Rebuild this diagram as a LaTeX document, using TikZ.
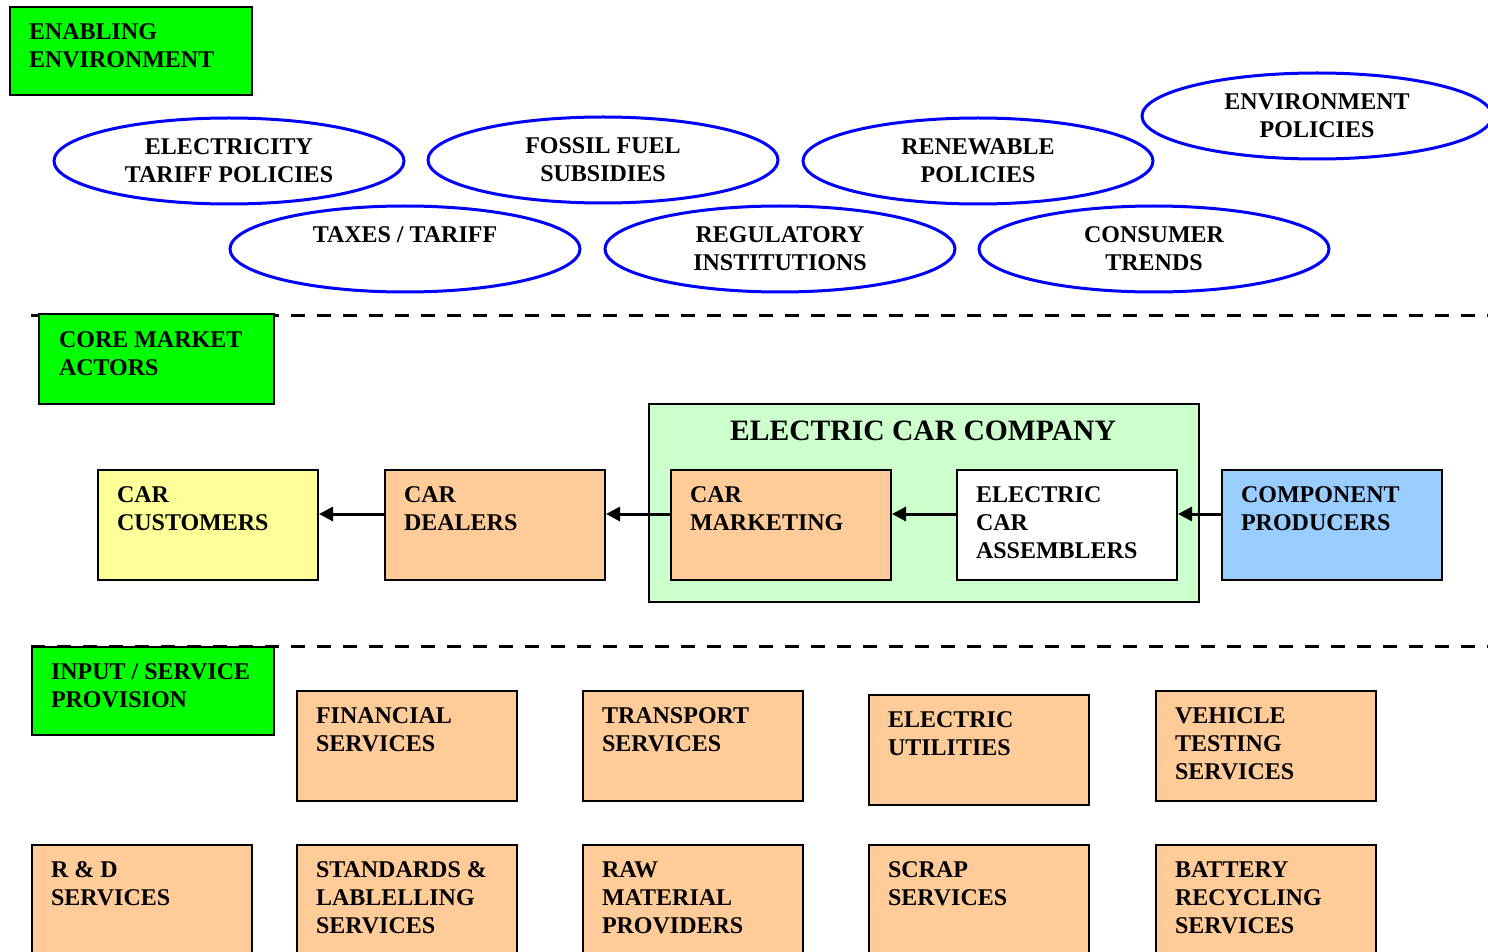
\documentclass[tikz,border=0pt]{standalone}
\usepackage{fontspec}
\setmainfont{Liberation Serif}
\usetikzlibrary{arrows.meta,positioning,shapes.geometric}

\definecolor{headgreen}{HTML}{00FF00}
\definecolor{peach}{HTML}{FFCC99}
\definecolor{custyellow}{HTML}{FFFF99}
\definecolor{compblue}{HTML}{99CCFF}
\definecolor{firmgreen}{HTML}{CCFFCC}
\definecolor{ellblue}{HTML}{0000FF}

\newcommand{\btext}[1]{\begin{minipage}[t][38pt][t]{91pt}\raggedright #1\end{minipage}}
\newcommand{\ttext}[2][102pt]{\begin{minipage}[t][27pt][t]{#1}\raggedright #2\end{minipage}}

\tikzset{
	txt/.style={font=\bfseries\fontsize{12}{14}\selectfont},
	cbox/.style={txt, draw, line width=1pt, rectangle, anchor=north west, inner xsep=9.5pt, inner ysep=8.5pt, minimum width=110pt, minimum height=55pt},
	headbox/.style={cbox, fill=headgreen, minimum width=121pt, minimum height=44pt},
	policy/.style={txt, ellipse, draw=ellblue, line width=1.5pt, inner sep=0pt, minimum width=175pt, minimum height=43pt, align=center},
	sepline/.style={line width=1.5pt, dash pattern=on 7pt off 6pt},
	arr/.style={line width=1.5pt, -{Triangle[length=7pt,width=7pt]}}
}

\begin{document}
\begin{tikzpicture}[x=0.5pt,y=-0.5pt]
		\clip (0,0) rectangle (1488,952);
		
		% separators
		\draw[sepline] (31,315) -- (1488,315);
		\draw[sepline] (31,646) -- (1488,646);
		
		% enabling environment
		\node[headbox]		(enabling)		at	(9,6)			{\ttext{ENABLING\\ENVIRONMENT}};
		\node[policy]		(tariffpol)		at	(229,161)		{ELECTRICITY\\TARIFF POLICIES};
		\node[policy]		(fossil)		at	(603,160)		{FOSSIL FUEL\\SUBSIDIES};
		\node[policy]		(renewable)		at	(978,161)		{RENEWABLE\\POLICIES};
		\node[policy]		(envpol)		at	(1317,116)		{ENVIRONMENT\\POLICIES};
		\node[policy]		(taxes)			at	(405,249)		{TAXES / TARIFF\\~};
		\node[policy]		(regulatory)	at	(780,249)		{REGULATORY\\INSTITUTIONS};
		\node[policy]		(trends)		at	(1154,249)		{CONSUMER\\TRENDS};
		
		% core market actors
		\node[headbox, inner xsep=10pt, minimum width=117.5pt, minimum height=45pt]	(core)	at	(38,313)	{\ttext[97.5pt]{CORE MARKET\\ACTORS}};
		\node[draw, line width=1pt, fill=firmgreen, anchor=north west, minimum width=275pt, minimum height=99pt]	(company)	at	(648,403)	{};
		\node[font=\bfseries\fontsize{14.8}{16}\selectfont]	(companytitle)	at	(923,431)	{ELECTRIC CAR COMPANY};
		\node[cbox, fill=custyellow]	(customers)		at	(97,469)	{\btext{CAR\\CUSTOMERS}};
		\node[cbox, fill=peach]			(dealers)		at	(384,469)	{\btext{CAR\\DEALERS}};
		\node[cbox, fill=peach]			(marketing)		at	(670,469)	{\btext{CAR\\MARKETING}};
		\node[cbox, fill=white]			(assemblers)	at	(956,469)	{\btext{ELECTRIC\\CAR\\ASSEMBLERS}};
		\node[cbox, fill=compblue]		(component)		at	(1221,469)	{\btext{COMPONENT\\PRODUCERS}};
		\draw[arr] ([yshift=5.5pt]dealers.west)		-- ([yshift=5.5pt]customers.east);
		\draw[arr] ([yshift=5.5pt]marketing.west)	-- ([yshift=5.5pt]dealers.east);
		\draw[arr] ([yshift=5.5pt]assemblers.west)	-- ([yshift=5.5pt]marketing.east);
		\draw[arr] ([yshift=5.5pt]component.west)	-- ([yshift=5.5pt]assemblers.east);
		
		% input / service provision
		\node[headbox]		(input)			at	(31,646)		{\ttext{INPUT / SERVICE\\PROVISION}};
		\node[cbox, fill=peach]	(financial)		at	(296,690)	{\btext{FINANCIAL\\SERVICES}};
		\node[cbox, fill=peach]	(transport)		at	(582,690)	{\btext{TRANSPORT\\SERVICES}};
		\node[cbox, fill=peach]	(utilities)		at	(868,694)	{\btext{ELECTRIC\\UTILITIES}};
		\node[cbox, fill=peach]	(testing)		at	(1155,690)	{\btext{VEHICLE\\TESTING\\SERVICES}};
		\node[cbox, fill=peach]	(rnd)			at	(31,844)	{\btext{R \& D\\SERVICES}};
		\node[cbox, fill=peach]	(standards)		at	(296,844)	{\btext{STANDARDS \&\\LABLELLING\\SERVICES}};
		\node[cbox, fill=peach]	(rawmat)		at	(582,844)	{\btext{RAW\\MATERIAL\\PROVIDERS}};
		\node[cbox, fill=peach]	(scrap)			at	(868,844)	{\btext{SCRAP\\SERVICES}};
		\node[cbox, fill=peach]	(recycling)		at	(1155,844)	{\btext{BATTERY\\RECYCLING\\SERVICES}};
	\end{tikzpicture}
\end{document}
